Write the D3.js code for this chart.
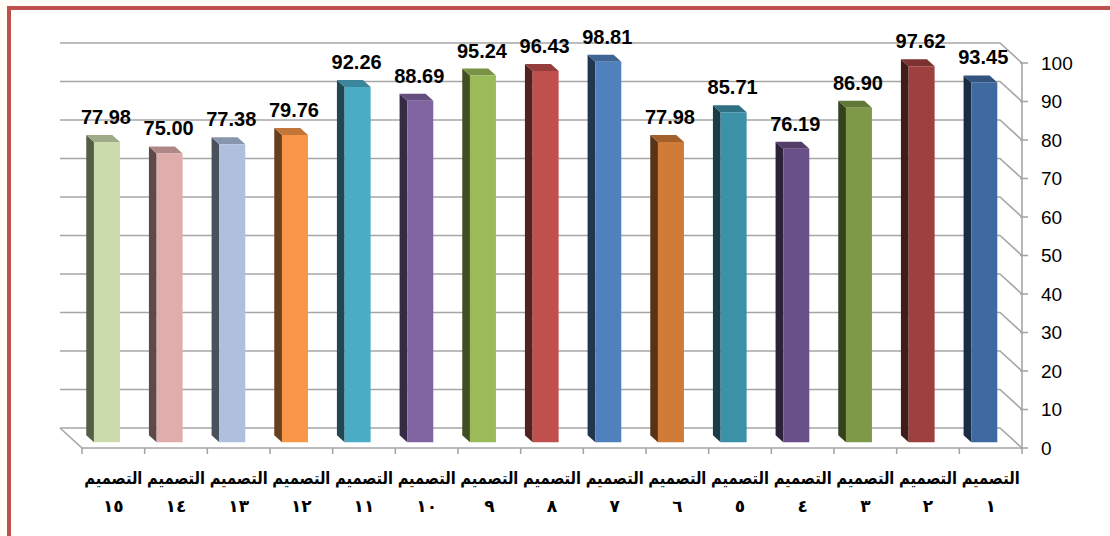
<!DOCTYPE html>
<html><head><meta charset="utf-8">
<script src="https://cdn.jsdelivr.net/npm/d3@7"></script>
<style>
html,body{margin:0;padding:0;background:#fffdf6;}
svg{display:block;}
</style></head>
<body>
<svg id="chart" width="1110" height="536"></svg>
<script>
// ---- data ----
const categories = ["التصميم ١","التصميم ٢","التصميم ٣","التصميم ٤","التصميم ٥","التصميم ٦","التصميم ٧","التصميم ٨","التصميم ٩","التصميم ١٠","التصميم ١١","التصميم ١٢","التصميم ١٣","التصميم ١٤","التصميم ١٥"];
const values = [93.45, 97.62, 86.90, 76.19, 85.71, 77.98, 98.81, 96.43, 95.24, 88.69, 92.26, 79.76, 77.38, 75.00, 77.98];
const colors = ["#3F6AA1","#9E403E","#7E9A48","#6A5088","#3C91A8","#D07C36","#4F81BD","#C0504D","#9BBB59","#8064A2","#4BACC6","#F79646","#AEC0DE","#DFAEAC","#CBDBAC"];
const yTicks = [0,10,20,30,40,50,60,70,80,90,100];

const svg = d3.select("#chart");
// plot background inside border
svg.append("rect").attr("x",9).attr("y",8).attr("width",1130).attr("height",600)
  .attr("fill","#ffffff").attr("stroke","#C0504D").attr("stroke-width",4);

// scales (front plane) ; categories reversed: 1 at right
const x = d3.scaleBand().domain(categories.slice().reverse()).range([82,1022]);
const y = d3.scaleLinear().domain([0,100]).range([448,63]);
const DX = -22, DY = -20; // depth offset for full depth
const P = (px, v, d) => [px + DX*d, y(v) + DY*d];

const grid = svg.append("g").attr("stroke","#A6A6A6").attr("stroke-width",1.6).attr("fill","none");
yTicks.forEach(t => {
  const a = P(x.range()[0], t, 1), b = P(x.range()[1], t, 1), c = P(x.range()[1], t, 0);
  grid.append("polyline").attr("points",[a,b,c].map(p=>p.join(",")).join(" "));
});
// floor left edge and front axis line
const fl = [P(x.range()[0],0,1), P(x.range()[0],0,0), P(x.range()[1],0,0)];
grid.append("polyline").attr("points", fl.map(p=>p.join(",")).join(" "));
// right axis vertical
grid.append("line").attr("x1",x.range()[1]).attr("x2",x.range()[1]).attr("y1",y(100)).attr("y2",y(0));
// right axis ticks
yTicks.forEach(t => grid.append("line").attr("x1",x.range()[1]-2).attr("x2",x.range()[1]+6).attr("y1",y(t)).attr("y2",y(t)));
// category ticks
const bounds = d3.range(categories.length+1).map(i => x.range()[0] + i*x.step());
bounds.forEach(bx => grid.append("line").attr("x1",bx).attr("x2",bx).attr("y1",y(0)).attr("y2",y(0)+6));

// y labels
svg.append("g").selectAll("text").data(yTicks).join("text")
  .attr("x",1041).attr("y",d=>y(d)).attr("dy","0.35em")
  .attr("font-family","Liberation Sans, Arial, sans-serif").attr("font-size",19).attr("fill","#000")
  .text(d=>d);

// bars
const d0 = 0.29, d1 = 0.64, bw = 26;
const bars = svg.append("g");
categories.forEach((c,i) => {
  const v = values[i], col = d3.color(colors[i]);
  const cx = x(c) + x.bandwidth()/2;
  const xl = cx - bw/2, xr = cx + bw/2;
  const fTL = P(xl,v,d0), fTR = P(xr,v,d0), fBL = P(xl,0,d0), fBR = P(xr,0,d0);
  const bTL = P(xl,v,d1), bTR = P(xr,v,d1), bBL = P(xl,0,d1);
  const side = d3.rgb(col.r*0.42, col.g*0.42, col.b*0.42);
  const top = d3.rgb(col.r*0.78, col.g*0.78, col.b*0.78);
  const pts = a => a.map(p=>p.join(",")).join(" ");
  bars.append("polygon").attr("points",pts([bBL,bTL,fTL,fBL])).attr("fill",side);
  bars.append("polygon").attr("points",pts([bTL,bTR,fTR,fTL])).attr("fill",top);
  bars.append("polygon").attr("points",pts([fTL,fTR,fBR,fBL])).attr("fill",col.formatHex());
  // value label
  bars.append("text").attr("x",cx + DX*d0 - 1).attr("y",bTL[1]-11)
    .attr("text-anchor","middle").attr("font-family","Liberation Sans, Arial, sans-serif")
    .attr("font-weight","bold").attr("font-size",20).attr("fill","#000")
    .text(v.toFixed(2));
  // category label
  const parts = c.split(" ");
  svg.append("text").attr("text-anchor","middle")
    .attr("transform",`translate(${cx},484) scale(0.86,1)`)
    .attr("font-family","DejaVu Sans, sans-serif").attr("font-weight","bold").attr("fill","#000")
    .attr("font-size",17).attr("direction","rtl").text(parts[0]);
  svg.append("text").attr("text-anchor","middle").attr("x",cx).attr("y",512)
    .attr("font-family","DejaVu Sans, sans-serif").attr("font-weight","bold").attr("fill","#000")
    .attr("font-size",17).attr("letter-spacing",4).text(parts[1]);
});
</script>
</body></html>
